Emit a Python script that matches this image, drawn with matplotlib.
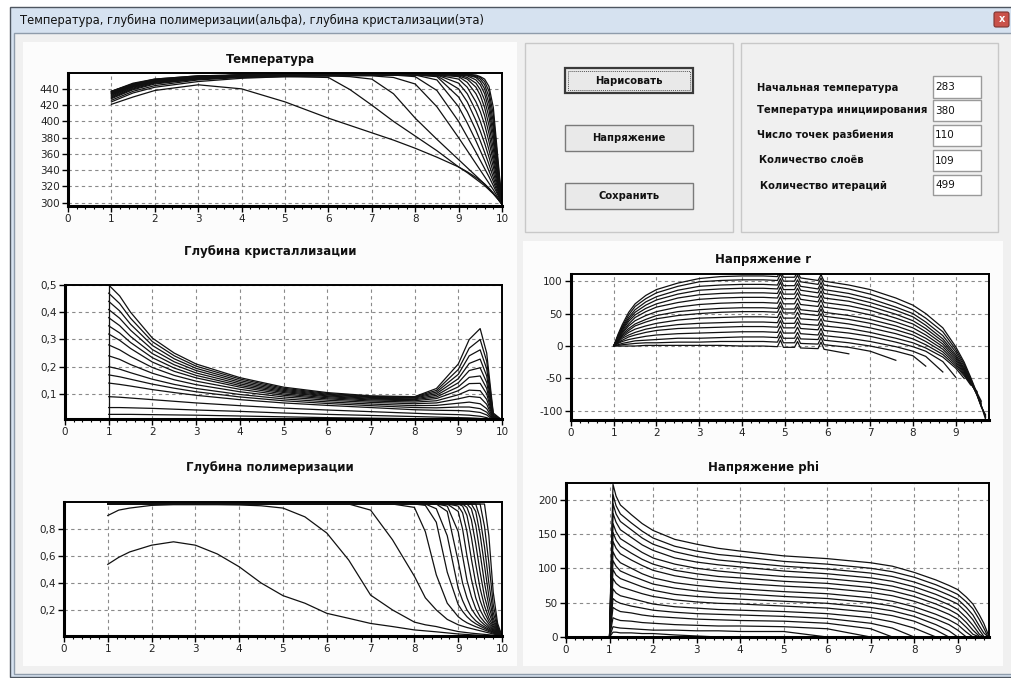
"""
Окно расчёта: температура, глубина полимеризации и кристаллизации, напряжения
"""
import numpy as np
import matplotlib
matplotlib.use("Agg")
import matplotlib.pyplot as plt
from matplotlib.patches import Rectangle, FancyBboxPatch
from matplotlib.ticker import MultipleLocator

plt.rcParams["axes.unicode_minus"] = False

NA = np.nan

# ---------------- тексты ----------------
WINDOW_TITLE = "Температура, глубина полимеризации(альфа), глубина кристализации(эта)"
PLOT_TITLES = ["Температура", "Глубина кристаллизации", "Глубина полимеризации",
               "Напряжение r", "Напряжение phi"]
BUTTONS = ["Нарисовать", "Напряжение", "Сохранить"]
PARAM_NAMES = ["Начальная температура", "Температура инициирования",
               "Число точек разбиения", "Количество слоёв", "Количество итераций"]
PARAM_VALUES = ["283", "380", "110", "109", "499"]

# ---------------- Температура ----------------
T_X = [1, 1.5, 2, 3, 4, 5, 6, 6.5, 7, 7.5, 8, 8.5, 9, 9.2, 9.4, 9.5, 9.6, 9.7, 9.8, 9.9, 10]
T_ROWS = [
    [421, 430, 438, 445, 440, 424, 404, 395, 386, 377, 367, 356, 344, 338, 331, 327, 323, 318, 312, 305, 298],
    [424, 435, 442, 449, 453, 455, 454, 439, 420, 400, 382, 364, 344, 337, 329, 325, 321, 316, 311, 305, 298],
    [426, 437, 444, 451, 454, 455, 456, 455, 452, 434, 404, 378, 353, 343, 333, 328, 323, 317, 311, 305, 298],
    [428, 439, 446, 452, 455, 456, 456, 456, 456, 454, 446, 418, 380, 364, 348, 340, 332, 324, 316, 307, 298],
    [429, 440, 447, 452, 455, 456, 456, 457, 457, 457, 455, 438, 400, 381, 362, 352, 342, 332, 321, 310, 298],
    [430, 441, 448, 453, 455, 456, 457, 457, 457, 457, 457, 451, 418, 398, 376, 364, 352, 339, 326, 312, 298],
    [431, 442, 448, 453, 456, 457, 457, 457, 457, 457, 457, 455, 430, 412, 389, 376, 362, 347, 331, 315, 298],
    [432, 443, 449, 453, 456, 457, 457, 457, 457, 457, 457, 456, 440, 424, 401, 388, 373, 356, 337, 318, 298],
    [433, 443, 449, 454, 456, 457, 457, 457, 457, 457, 457, 457, 447, 434, 413, 400, 384, 365, 344, 321, 298],
    [434, 444, 450, 454, 456, 457, 457, 457, 457, 457, 457, 457, 452, 442, 424, 412, 396, 375, 351, 325, 298],
    [434, 444, 450, 454, 456, 457, 457, 457, 457, 457, 457, 457, 455, 448, 434, 423, 407, 385, 358, 328, 298],
    [435, 445, 450, 455, 457, 457, 458, 458, 458, 458, 458, 458, 456, 452, 442, 432, 417, 395, 366, 332, 298],
    [435, 445, 451, 455, 457, 458, 458, 458, 458, 458, 458, 458, 457, 454, 447, 439, 426, 405, 375, 336, 298],
    [436, 445, 451, 455, 457, 458, 458, 458, 458, 458, 458, 458, 457, 456, 451, 445, 434, 414, 383, 340, 298],
    [436, 446, 451, 455, 457, 458, 458, 458, 458, 458, 458, 458, 458, 457, 454, 449, 440, 422, 391, 344, 298],
    [437, 446, 451, 455, 457, 458, 458, 458, 458, 458, 458, 458, 458, 457, 455, 452, 445, 430, 399, 348, 298],
    [437, 446, 452, 456, 457, 458, 458, 458, 458, 458, 458, 458, 458, 458, 456, 454, 449, 437, 408, 353, 298],
    [437, 447, 452, 456, 457, 458, 458, 458, 458, 458, 458, 458, 458, 458, 457, 455, 452, 443, 417, 358, 298],
]
T_YTICKS = [300, 320, 340, 360, 380, 400, 420, 440]

# ---------------- Глубина кристаллизации ----------------
E_X = [1, 1.25, 1.5, 2, 2.5, 3, 4, 5, 6, 7, 8, 8.5, 9, 9.25, 9.5, 9.65, 9.8, 10]
E_ROWS = [
    [0.500, 0.460, 0.400, 0.305, 0.250, 0.210, 0.160, 0.125, 0.105, 0.093, 0.090, 0.120, 0.210, 0.300, 0.340, 0.250, 0.030, 0.004],
    [0.470, 0.432, 0.378, 0.292, 0.240, 0.202, 0.155, 0.121, 0.102, 0.091, 0.089, 0.113, 0.190, 0.268, 0.300, 0.220, 0.026, 0.004],
    [0.440, 0.405, 0.356, 0.278, 0.229, 0.194, 0.149, 0.117, 0.099, 0.089, 0.087, 0.107, 0.172, 0.240, 0.262, 0.192, 0.022, 0.003],
    [0.410, 0.378, 0.334, 0.263, 0.218, 0.186, 0.143, 0.113, 0.096, 0.087, 0.085, 0.101, 0.156, 0.212, 0.228, 0.166, 0.019, 0.003],
    [0.380, 0.351, 0.311, 0.248, 0.207, 0.177, 0.137, 0.109, 0.093, 0.084, 0.082, 0.095, 0.141, 0.186, 0.196, 0.142, 0.016, 0.003],
    [0.350, 0.324, 0.289, 0.233, 0.195, 0.168, 0.131, 0.105, 0.090, 0.081, 0.079, 0.089, 0.126, 0.161, 0.166, 0.120, 0.014, 0.002],
    [0.320, 0.297, 0.267, 0.217, 0.183, 0.159, 0.125, 0.100, 0.086, 0.078, 0.075, 0.083, 0.112, 0.138, 0.139, 0.100, 0.012, 0.002],
    [0.280, 0.262, 0.238, 0.197, 0.168, 0.147, 0.117, 0.095, 0.082, 0.074, 0.070, 0.075, 0.097, 0.114, 0.112, 0.080, 0.010, 0.002],
    [0.240, 0.227, 0.208, 0.176, 0.152, 0.134, 0.108, 0.089, 0.077, 0.069, 0.064, 0.067, 0.082, 0.091, 0.087, 0.062, 0.008, 0.002],
    [0.200, 0.191, 0.178, 0.154, 0.135, 0.120, 0.098, 0.082, 0.071, 0.063, 0.057, 0.058, 0.066, 0.070, 0.064, 0.046, 0.006, 0.001],
    [0.170, 0.163, 0.154, 0.136, 0.121, 0.108, 0.089, 0.075, 0.065, 0.057, 0.050, 0.049, 0.052, 0.052, 0.046, 0.033, 0.005, 0.001],
    [0.140, 0.135, 0.129, 0.116, 0.105, 0.095, 0.079, 0.067, 0.058, 0.050, 0.042, 0.040, 0.039, 0.037, 0.032, 0.023, 0.004, 0.001],
    [0.090, 0.088, 0.085, 0.079, 0.073, 0.067, 0.057, 0.048, 0.041, 0.035, 0.029, 0.026, 0.024, 0.022, 0.018, 0.013, 0.003, 0.001],
    [0.050, 0.050, 0.049, 0.047, 0.044, 0.041, 0.036, 0.030, 0.025, 0.021, 0.017, 0.015, 0.013, 0.012, 0.010, 0.007, 0.002, 0.001],
    [0.025, 0.025, 0.025, 0.024, 0.023, 0.022, 0.019, 0.016, 0.013, 0.011, 0.009, 0.008, 0.007, 0.006, 0.005, 0.004, 0.001, 0.000],
]
E_YTICKS = [0.1, 0.2, 0.3, 0.4, 0.5]
E_YLABELS = ["0,1", "0,2", "0,3", "0,4", "0,5"]

# ---------------- Глубина полимеризации ----------------
A_X = [1, 1.25, 1.5, 2, 2.5, 3, 3.5, 4, 4.5, 5, 5.5, 6, 6.5, 7, 7.5, 8, 8.25, 8.5, 8.75,
       9, 9.1, 9.2, 9.3, 9.4, 9.5, 9.6, 9.7, 9.8, 9.9, 10]
A_ROWS = [
    [0.538, 0.590, 0.630, 0.680, 0.705, 0.680, 0.615, 0.520, 0.400, 0.306, 0.250, 0.175, 0.138, 0.100, 0.077,
     0.052, 0.045, 0.038, 0.030, 0.022, 0.020, 0.018, 0.016, 0.014, 0.013, 0.011, 0.010, 0.009, 0.008, 0.007],
    [0.900, 0.940, 0.955, 0.975, 0.980, 0.980, 0.980, 0.978, 0.972, 0.955, 0.890, 0.770, 0.570, 0.310, 0.200,
     0.110, 0.090, 0.077, 0.058, 0.040, 0.036, 0.032, 0.028, 0.025, 0.022, 0.019, 0.016, 0.013, 0.010, 0.007],
    [0.985, 0.985, 0.985, 0.985, 0.985, 0.985, 0.985, 0.985, 0.985, 0.985, 0.985, 0.985, 0.985, 0.940, 0.720,
     0.450, 0.290, 0.200, 0.130, 0.090, 0.080, 0.070, 0.062, 0.054, 0.046, 0.038, 0.030, 0.022, 0.014, 0.007],
    [0.985, 0.985, 0.985, 0.985, 0.985, 0.985, 0.985, 0.985, 0.985, 0.985, 0.985, 0.985, 0.985, 0.985, 0.985,
     0.960, 0.780, 0.460, 0.250, 0.150, 0.125, 0.105, 0.090, 0.076, 0.064, 0.052, 0.040, 0.028, 0.017, 0.007],
    [0.985, 0.985, 0.985, 0.985, 0.985, 0.985, 0.985, 0.985, 0.985, 0.985, 0.985, 0.985, 0.985, 0.985, 0.985,
     0.985, 0.975, 0.850, 0.480, 0.240, 0.190, 0.150, 0.120, 0.098, 0.080, 0.064, 0.048, 0.034, 0.020, 0.007],
    [0.985, 0.985, 0.985, 0.985, 0.985, 0.985, 0.985, 0.985, 0.985, 0.985, 0.985, 0.985, 0.985, 0.985, 0.985,
     0.985, 0.985, 0.950, 0.750, 0.360, 0.270, 0.200, 0.155, 0.120, 0.095, 0.075, 0.056, 0.038, 0.022, 0.007],
    [0.985, 0.985, 0.985, 0.985, 0.985, 0.985, 0.985, 0.985, 0.985, 0.985, 0.985, 0.985, 0.985, 0.985, 0.985,
     0.985, 0.985, 0.985, 0.930, 0.560, 0.400, 0.290, 0.210, 0.160, 0.120, 0.090, 0.066, 0.044, 0.025, 0.007],
    [0.985, 0.985, 0.985, 0.985, 0.985, 0.985, 0.985, 0.985, 0.985, 0.985, 0.985, 0.985, 0.985, 0.985, 0.985,
     0.985, 0.985, 0.985, 0.970, 0.780, 0.600, 0.420, 0.300, 0.210, 0.150, 0.110, 0.078, 0.050, 0.028, 0.007],
    [0.985, 0.985, 0.985, 0.985, 0.985, 0.985, 0.985, 0.985, 0.985, 0.985, 0.985, 0.985, 0.985, 0.985, 0.985,
     0.985, 0.985, 0.985, 0.985, 0.930, 0.800, 0.600, 0.430, 0.290, 0.200, 0.140, 0.095, 0.058, 0.030, 0.007],
    [0.985, 0.985, 0.985, 0.985, 0.985, 0.985, 0.985, 0.985, 0.985, 0.985, 0.985, 0.985, 0.985, 0.985, 0.985,
     0.985, 0.985, 0.985, 0.985, 0.970, 0.920, 0.780, 0.580, 0.400, 0.270, 0.180, 0.115, 0.068, 0.034, 0.007],
    [0.985, 0.985, 0.985, 0.985, 0.985, 0.985, 0.985, 0.985, 0.985, 0.985, 0.985, 0.985, 0.985, 0.985, 0.985,
     0.985, 0.985, 0.985, 0.985, 0.985, 0.970, 0.900, 0.740, 0.540, 0.360, 0.230, 0.140, 0.080, 0.038, 0.007],
    [0.985, 0.985, 0.985, 0.985, 0.985, 0.985, 0.985, 0.985, 0.985, 0.985, 0.985, 0.985, 0.985, 0.985, 0.985,
     0.985, 0.985, 0.985, 0.985, 0.985, 0.985, 0.960, 0.870, 0.690, 0.480, 0.300, 0.180, 0.095, 0.043, 0.007],
    [0.985, 0.985, 0.985, 0.985, 0.985, 0.985, 0.985, 0.985, 0.985, 0.985, 0.985, 0.985, 0.985, 0.985, 0.985,
     0.985, 0.985, 0.985, 0.985, 0.985, 0.985, 0.985, 0.950, 0.830, 0.620, 0.400, 0.230, 0.115, 0.050, 0.007],
    [0.985, 0.985, 0.985, 0.985, 0.985, 0.985, 0.985, 0.985, 0.985, 0.985, 0.985, 0.985, 0.985, 0.985, 0.985,
     0.985, 0.985, 0.985, 0.985, 0.985, 0.985, 0.985, 0.985, 0.930, 0.760, 0.530, 0.300, 0.140, 0.058, 0.007],
    [0.985, 0.985, 0.985, 0.985, 0.985, 0.985, 0.985, 0.985, 0.985, 0.985, 0.985, 0.985, 0.985, 0.985, 0.985,
     0.985, 0.985, 0.985, 0.985, 0.985, 0.985, 0.985, 0.985, 0.985, 0.880, 0.670, 0.400, 0.180, 0.068, 0.007],
    [0.985, 0.985, 0.985, 0.985, 0.985, 0.985, 0.985, 0.985, 0.985, 0.985, 0.985, 0.985, 0.985, 0.985, 0.985,
     0.985, 0.985, 0.985, 0.985, 0.985, 0.985, 0.985, 0.985, 0.985, 0.985, 0.820, 0.550, 0.240, 0.080, 0.007],
    [0.985, 0.985, 0.985, 0.985, 0.985, 0.985, 0.985, 0.985, 0.985, 0.985, 0.985, 0.985, 0.985, 0.985, 0.985,
     0.985, 0.985, 0.985, 0.985, 0.985, 0.985, 0.985, 0.985, 0.985, 0.985, 0.985, 0.750, 0.330, 0.100, 0.007],
]
A_YTICKS = [0.2, 0.4, 0.6, 0.8]
A_YLABELS = ["0,2", "0,4", "0,6", "0,8"]

# ---------------- Напряжение r ----------------
R_X = [1, 1.1, 1.2, 1.35, 1.5, 1.75, 2, 2.5, 3, 3.5, 4, 4.5, 4.83, 4.9, 4.97, 5.23, 5.3, 5.37,
       5.78, 5.85, 5.92, 6.5, 7, 7.6, 8, 8.3, 8.7, 9, 9.2, 9.35, 9.5, 9.6, 9.7]
R_ROWS = [
    [0, 18, 33, 52, 65, 78, 87, 97, 104, 107, 108, 108, 107, 117, 106, 106, 114, 105, 101, 110, 100, 94, 87, 74, 63, 50, 28, -1, -25, -48, -73, -92, -113],
    [0, 16, 30, 48, 61, 73, 82, 92, 99, 101, 102, 102, 101, 111, 100, 100, 109, 99, 95, 105, 94, 88, 80, 67, 56, 43, 22, -5, -28, -50, -74, -92, -110],
    [0, 15, 28, 44, 56, 68, 76, 86, 92, 94, 95, 95, 94, 104, 93, 93, 102, 92, 88, 98, 87, 81, 73, 60, 50, 37, 16, -9, -31, -52, -75, -93, -108],
    [0, 14, 26, 41, 52, 63, 71, 80, 86, 88, 89, 89, 88, 98, 87, 87, 96, 86, 82, 92, 81, 75, 67, 55, 45, 32, 11, -13, -34, -54, -76, -94, -106],
    [0, 13, 24, 38, 48, 58, 65, 74, 79, 81, 82, 82, 81, 91, 80, 80, 89, 79, 75, 85, 74, 69, 61, 49, 39, 27, 7, -16, -36, -55, -75, -92, NA],
    [0, 12, 22, 34, 44, 53, 60, 67, 72, 74, 75, 75, 74, 84, 73, 73, 82, 72, 68, 78, 67, 62, 55, 43, 34, 22, 3, -19, -38, -56, -74, -88, NA],
    [0, 11, 20, 31, 39, 47, 53, 60, 64, 66, 67, 67, 66, 76, 65, 65, 74, 64, 61, 71, 60, 55, 48, 37, 28, 17, -1, -22, -40, -57, -72, -85, NA],
    [0, 10, 18, 27, 34, 41, 47, 53, 56, 58, 59, 59, 58, 68, 57, 57, 66, 56, 53, 63, 52, 47, 41, 31, 22, 12, -5, -25, -42, -58, -72, NA, NA],
    [0, 9, 16, 24, 31, 37, 42, 47, 50, 52, 53, 53, 52, 62, 51, 51, 60, 50, 47, 57, 46, 41, 35, 25, 17, 7, -9, -28, -44, -58, -70, NA, NA],
    [0, 8, 14, 21, 26, 31, 35, 40, 43, 44, 45, 45, 44, 54, 43, 43, 52, 42, 40, 50, 39, 34, 28, 19, 11, 2, -13, -31, -46, -60, NA, NA, NA],
    [0, 6, 12, 17, 21, 26, 29, 33, 35, 36, 37, 37, 36, 46, 35, 35, 44, 34, 32, 42, 31, 27, 21, 12, 5, -3, -17, -34, -50, NA, NA, NA, NA],
    [0, 5, 9, 14, 17, 21, 24, 27, 28, 29, 30, 30, 29, 39, 28, 28, 37, 27, 25, 35, 24, 20, 15, 6, -1, -8, -24, -48, NA, NA, NA, NA, NA],
    [0, 4, 7, 10, 12, 15, 17, 19, 20, 21, 22, 22, 21, 31, 20, 20, 29, 19, 17, 27, 16, 12, 7, -1, -8, -16, -40, NA, NA, NA, NA, NA, NA],
    [0, 2, 4, 6, 8, 9, 10, 12, 12, 13, 14, 14, 13, 23, 12, 12, 21, 11, 10, 20, 9, 5, 0, -8, -15, -31, NA, NA, NA, NA, NA, NA, NA],
    [0, 1, 2, 3, 4, 5, 5, 6, 6, 7, 7, 7, 6, 16, 5, 5, 14, 4, 3, 13, 2, -2, -8, -22, NA, NA, NA, NA, NA, NA, NA, NA, NA],
    [0, 0, 0, 0, 0, 1, 1, 1, 1, 1, 0, 0, -1, 9, -2, -2, 7, -3, -4, 6, -5, -12, NA, NA, NA, NA, NA, NA, NA, NA, NA, NA, NA],
]
R_YTICKS = [-100, -50, 0, 50, 100]

# ---------------- Напряжение phi ----------------
P_X = [0, 1.0, 1.08, 1.15, 1.25, 1.5, 1.75, 2, 2.5, 3, 3.5, 4, 5, 6, 7, 7.5, 8, 8.5, 8.8,
       9, 9.2, 9.35, 9.5, 9.6, 9.7]
P_ROWS = [
    [0, 0, 222, 205, 192, 178, 165, 155, 142, 135, 129, 125, 118, 114, 108, 103, 94, 83, 75, 69, 58, 48, 32, 20, 4],
    [0, 0, 207, 191, 179, 166, 154, 144, 132, 125, 120, 117, 110, 106, 100, 95, 87, 76, 68, 62, 51, 41, 25, 13, 0],
    [0, 0, 194, 179, 168, 156, 144, 135, 124, 117, 112, 109, 103, 99, 93, 88, 80, 69, 61, 55, 43, 32, 16, 6, 0],
    [0, 0, 180, 167, 156, 145, 134, 126, 115, 109, 105, 102, 96, 92, 86, 81, 73, 62, 54, 48, 36, 25, 10, 1, NA],
    [0, 0, 165, 153, 143, 133, 123, 115, 106, 100, 96, 93, 88, 85, 79, 74, 66, 55, 47, 40, 28, 17, 4, 0, NA],
    [0, 0, 152, 141, 132, 122, 113, 106, 97, 92, 88, 86, 81, 78, 72, 67, 59, 48, 40, 33, 21, 10, 1, NA, NA],
    [0, 0, 139, 129, 121, 112, 104, 97, 89, 84, 81, 78, 74, 71, 65, 60, 52, 41, 33, 26, 14, 4, 0, NA, NA],
    [0, 0, 124, 115, 108, 100, 92, 86, 79, 75, 72, 70, 66, 63, 57, 52, 44, 33, 25, 18, 7, 0, NA, NA, NA],
    [0, 0, 111, 103, 96, 89, 83, 77, 71, 67, 64, 63, 59, 56, 50, 45, 37, 26, 18, 10, 0, NA, NA, NA, NA],
    [0, 0, 98, 90, 85, 79, 73, 68, 62, 59, 57, 55, 52, 49, 43, 38, 30, 18, 9, 0, NA, NA, NA, NA, NA],
    [0, 0, 85, 78, 73, 68, 63, 59, 54, 51, 49, 48, 45, 42, 36, 31, 23, 10, 0, NA, NA, NA, NA, NA, NA],
    [0, 0, 70, 64, 60, 56, 52, 48, 44, 42, 40, 39, 37, 34, 28, 22, 13, 0, NA, NA, NA, NA, NA, NA, NA],
    [0, 0, 56, 52, 49, 45, 42, 39, 36, 34, 33, 32, 30, 27, 20, 13, 0, NA, NA, NA, NA, NA, NA, NA, NA],
    [0, 0, 43, 40, 37, 35, 32, 30, 28, 26, 25, 24, 23, 20, 12, 0, NA, NA, NA, NA, NA, NA, NA, NA, NA],
    [0, 0, 28, 26, 24, 23, 21, 20, 18, 17, 16, 16, 15, 12, 0, NA, NA, NA, NA, NA, NA, NA, NA, NA, NA],
    [0, 0, 15, 14, 13, 12, 11, 10, 10, 9, 9, 8, 8, 0, NA, NA, NA, NA, NA, NA, NA, NA, NA, NA, NA],
    [0, 0, 7, 7, 6, 6, 5, 5, 3, 1.5, 0, NA, NA, NA, NA, NA, NA, NA, NA, NA, NA, NA, NA, NA, NA],
]
P_YTICKS = [0, 50, 100, 150, 200]

LEFT_XTICKS = list(range(0, 11))
RIGHT_XTICKS = list(range(0, 10))

# ---------------- фигура ----------------
W, H = 1011, 678
fig = plt.figure(figsize=(W / 100, H / 100), dpi=100)
fig.patch.set_facecolor("white")

# фон окна в пикселях
bg = fig.add_axes([0, 0, 1, 1])
bg.set_xlim(0, W)
bg.set_ylim(H, 0)
bg.axis("off")


def box(x0, y0, x1, y1, **kw):
    bg.add_patch(Rectangle((x0, y0), x1 - x0, y1 - y0, **kw))


box(10, 7, W + 3, 677, facecolor="#d6e2f0", edgecolor="#4e5660", lw=1)
box(14, 33, W + 3, 674, facecolor="#f0f0f0", edgecolor="#8f9cab", lw=1)
bg.text(20, 20, WINDOW_TITLE, fontsize=8.3, va="center", color="#111111")
bg.add_patch(FancyBboxPatch((994, 12), 15, 15, boxstyle="round,pad=0,rounding_size=2",
                            fc="#c9524a", ec="#7c3430", lw=0.8))
bg.text(1001.5, 19.5, "x", color="white", fontsize=7, fontweight="bold",
        ha="center", va="center")

# белые панели и рамки групп
box(23, 42, 517, 666, facecolor="#fcfcfc", edgecolor="none")
box(523, 241, 1003, 666, facecolor="#fcfcfc", edgecolor="none")
box(525, 43, 733, 232, facecolor="none", edgecolor="#c8c8c8", lw=1)
box(741, 43, 998, 232, facecolor="none", edgecolor="#c8c8c8", lw=1)

# кнопки
btn_y = [(68, 93), (125, 151), (183, 209)]
for i, (name, (y0, y1)) in enumerate(zip(BUTTONS, btn_y)):
    if i == 0:
        box(565, y0, 693, y1, facecolor="#e9e9e9", edgecolor="#3a3a3a", lw=1.6)
        box(568, y0 + 3, 690, y1 - 3, facecolor="none", edgecolor="#555555",
            lw=0.7, ls=(0, (1, 1)))
    else:
        box(565, y0, 693, y1, facecolor="#e9e9e9", edgecolor="#7a7a7a", lw=1)
    bg.text(629, (y0 + y1) / 2, name, fontsize=7.2, fontweight="bold",
            ha="center", va="center", color="#111111")

# параметры
lab_y = [88, 110, 135, 160, 186]
lab_x = [757, 757, 757, 759, 760]
fld_y = [(76, 98), (100, 121), (125, 146), (150, 171), (175, 195)]
for name, val, x, y, (f0, f1) in zip(PARAM_NAMES, PARAM_VALUES, lab_x, lab_y, fld_y):
    bg.text(x, y, name, fontsize=7.2, fontweight="bold", va="center", color="#111111")
    box(933, f0, 981, f1, facecolor="white", edgecolor="#9a9a9a", lw=1)
    bg.text(935, (f0 + f1) / 2, val, fontsize=7.5, va="center", color="#111111")


def px_axes(l, t, r, b):
    return fig.add_axes([l / W, 1 - b / H, (r - l) / W, (b - t) / H])


def style(ax, xlim, ylim, xticks, yticks, ylabels=None):
    ax.set_facecolor("white")
    ax.set_xlim(*xlim)
    ax.set_ylim(*ylim)
    ax.set_xticks(xticks)
    ax.set_yticks(yticks)
    if ylabels:
        ax.set_yticklabels(ylabels)
    ax.xaxis.set_minor_locator(MultipleLocator(0.2))
    ax.set_axisbelow(True)
    ax.grid(True, which="major", linestyle=(0, (3, 3)), color="#8a8a8a", linewidth=0.8)
    ax.tick_params(which="major", length=4, width=1, labelsize=7.5,
                   labelcolor="#222222", pad=2)
    ax.tick_params(which="minor", length=2, width=0.8)
    ax.tick_params(axis="y", which="minor", left=False)
    for s in ("left", "bottom"):
        ax.spines[s].set_linewidth(2.2)
    for s in ("top", "right"):
        ax.spines[s].set_linewidth(1.4)


def curves(ax, xs, rows):
    for row in rows:
        ax.plot(xs, row, color="#111111", lw=0.9)


# Температура
ax1 = px_axes(68, 73, 502, 206)
curves(ax1, T_X, T_ROWS)
style(ax1, (0, 10), (296, 459.5), LEFT_XTICKS, T_YTICKS)

# Глубина кристаллизации
ax2 = px_axes(65, 285, 502, 419)
ax2.vlines(E_X[0], 0, E_ROWS[0][0], color="#111111", lw=0.9)
curves(ax2, E_X, E_ROWS)
style(ax2, (0, 10), (0.008, 0.5), LEFT_XTICKS, E_YTICKS, E_YLABELS)

# Глубина полимеризации
ax3 = px_axes(64, 502, 502, 636)
curves(ax3, A_X, A_ROWS)
style(ax3, (0, 10), (0.007, 1.0), LEFT_XTICKS, A_YTICKS, A_YLABELS)

# Напряжение r
ax4 = px_axes(571, 274, 989, 420)
curves(ax4, R_X, R_ROWS)
style(ax4, (0, 9.78), (-114, 111), RIGHT_XTICKS, R_YTICKS)

# Напряжение phi
ax5 = px_axes(566, 483, 989, 637)
curves(ax5, P_X, P_ROWS)
style(ax5, (0, 9.72), (0, 224), RIGHT_XTICKS, P_YTICKS)

# заголовки графиков
title_pos = [(271, 60), (270, 252), (270, 468), (763, 260), (763, 468)]
for t, (x, y) in zip(PLOT_TITLES, title_pos):
    bg.text(x, y, t, fontsize=8.5, fontweight="bold", ha="center", va="center",
            color="#111111")

fig.savefig("out.png", dpi=100)
